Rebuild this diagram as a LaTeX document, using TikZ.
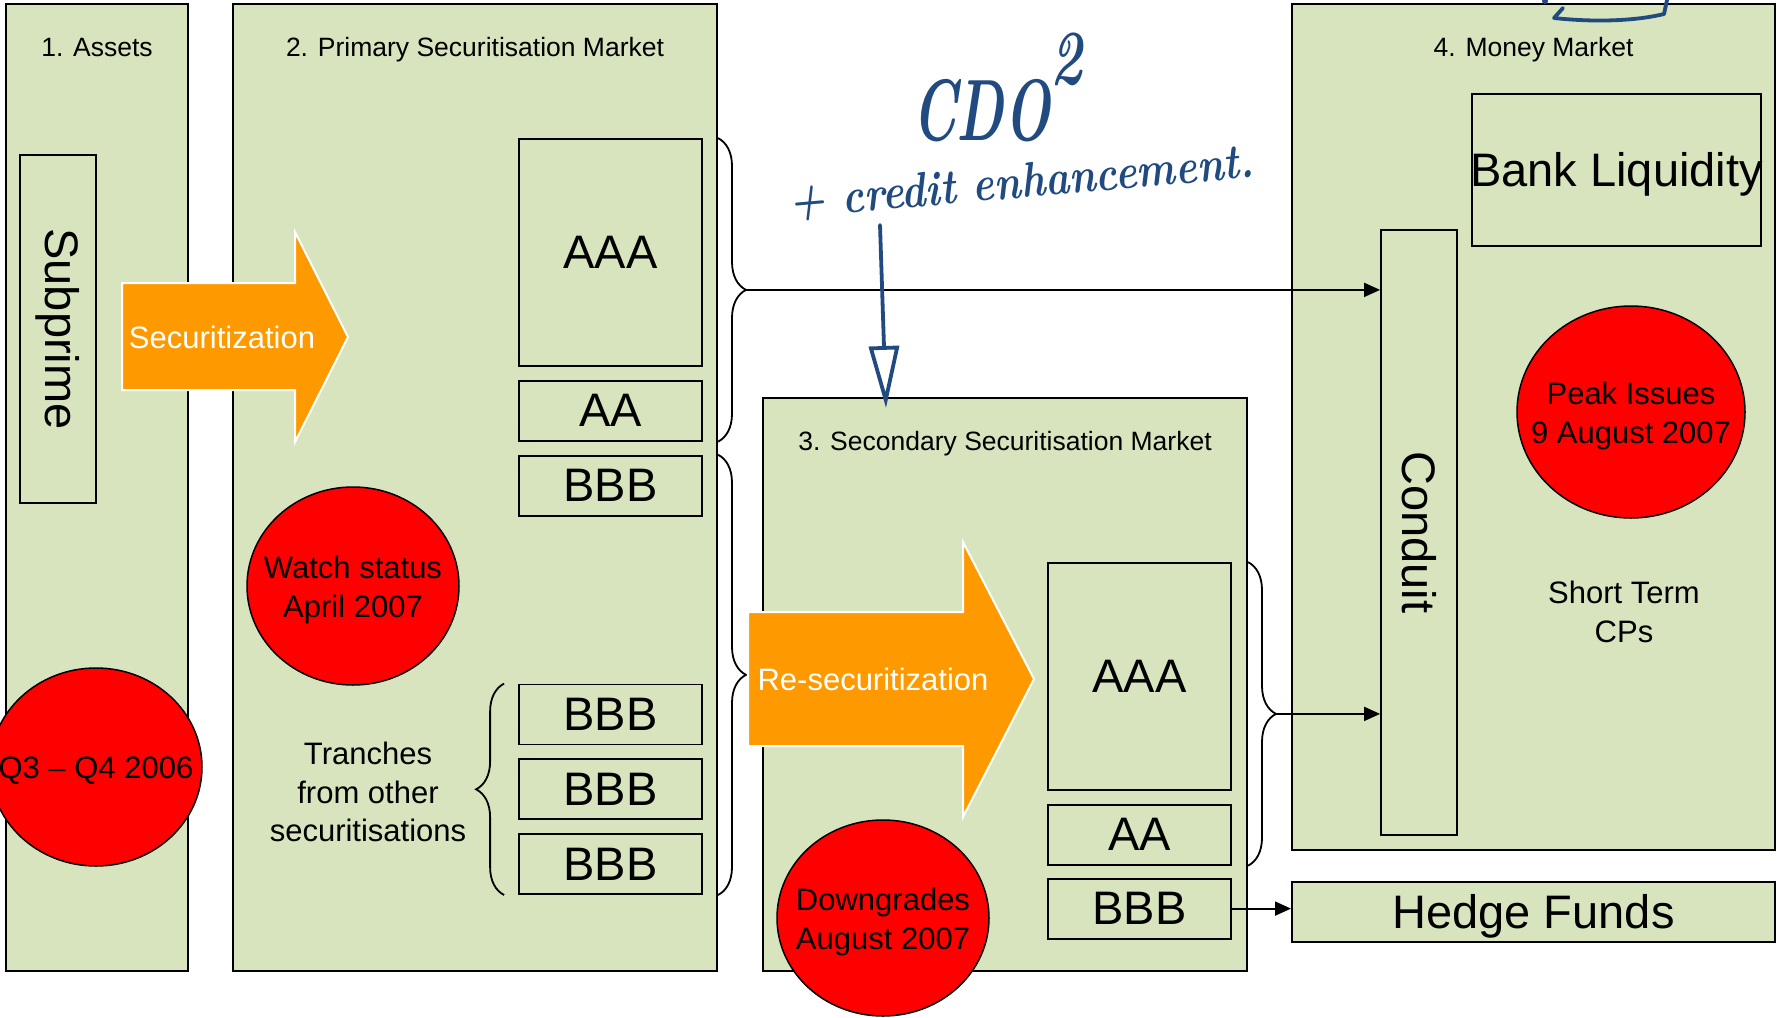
\documentclass[tikz,border=0pt]{standalone}
\usepackage{fontspec}
\setsansfont{Liberation Sans}
\usetikzlibrary{positioning,shapes.geometric,arrows.meta,decorations.pathreplacing}
\definecolor{mygreen}{RGB}{215,228,189}
\definecolor{myorange}{RGB}{255,153,0}
\definecolor{myred}{RGB}{255,0,0}
\definecolor{myink}{RGB}{32,74,128}

\begin{document}
\begin{tikzpicture}[x=1pt,y=-1pt,
  panel/.style={draw,line width=2pt,fill=mygreen,anchor=north west,inner sep=0pt},
  ptitle/.style={font=\sffamily\fontsize{26.5}{32}\selectfont,anchor=base,yshift=-53pt},
  bigtext/.style={font=\sffamily\fontsize{47}{56}\selectfont},
  captext/.style={text height=33.7pt,text depth=0pt},
  midtext/.style={font=\sffamily\fontsize{31}{38.5}\selectfont,align=center},
  tranche/.style={draw,line width=1.8pt,fill=mygreen,minimum width=183pt,minimum height=60pt,inner sep=0pt,bigtext},
  vbox/.style={draw,line width=1.8pt,fill=mygreen,rotate=-90,minimum height=76pt,inner sep=0pt,bigtext},
  event/.style={ellipse,draw,line width=1.5pt,fill=myred,inner sep=0pt},
  eventtext/.style={midtext,yshift=-4pt},
  bigarrow/.style={fill=myorange,draw=white,line width=2pt},
  flow/.style={-{Triangle[length=16pt,width=14pt]},line width=1.8pt},
  bracket/.style={decorate,decoration={brace,amplitude=28pt},line width=1.8pt},
  ink/.style={myink,line width=3.8pt,line cap=round,line join=round},
  inktext/.style={text=myink,inner sep=0pt}]

  \useasboundingbox (0,0) rectangle (1777,1017);

  % the four markets
  \node[panel,minimum width=182pt,minimum height=967pt] (assets) at (5,3) {};
  \node[panel,minimum width=484pt,minimum height=967pt] (primary) at (232,3) {};
  \node[panel,minimum width=484pt,minimum height=573pt] (secondary) at (762,397) {};
  \node[panel,minimum width=483pt,minimum height=846pt] (money) at (1291,3) {};
  \node[panel,minimum width=483pt,minimum height=60pt,bigtext,captext] (hedge) at (1291,881) {Hedge Funds};

  \node[ptitle] (assetstitle) at (assets.north) {1. Assets};
  \node[ptitle] (primarytitle) at (primary.north) {2. Primary Securitisation Market};
  \node[ptitle] (secondarytitle) at (secondary.north) {3. Secondary Securitisation Market};
  \node[ptitle] (moneytitle) at (money.north) {4. Money Market};

  % tranches
  \node[tranche,minimum height=227pt] (aaa1) at (610.5,252.5) {AAA};
  \node[tranche,below=13pt of aaa1] (aa1) {AA};
  \node[tranche,below=13pt of aa1] (bbb1) {BBB};
  \node[tranche] (bbb2) at (610.5,714.5) {BBB};
  \node[tranche,below=13pt of bbb2] (bbb3) {BBB};
  \node[tranche,below=13pt of bbb3] (bbb4) {BBB};

  \node[tranche,minimum height=227pt] (aaa2) at (1139.5,676.5) {AAA};
  \node[tranche,below=13pt of aaa2] (aa2) {AA};
  \node[tranche,below=12pt of aa2] (bbb5) {BBB};

  \node[vbox,minimum width=348pt] (subprime) at (58,329) {Subprime};
  \node[vbox,minimum width=605pt] (conduit) at (1419,532.5) {Conduit};
  \node[draw,line width=1.8pt,fill=mygreen,minimum width=289pt,minimum height=152pt,inner sep=0pt,bigtext,captext] (bank) at (1616.5,170) {\makebox[0pt]{Bank Liquidity}};

  % braces round the tranches
  \draw[bracket] (aaa1.north -| primary.east) -- coordinate[pos=.5,xshift=28pt] (seniortip) (aa1.south -| primary.east);
  \draw[bracket] (bbb1.north -| primary.east) -- (bbb4.south -| primary.east);
  \draw[bracket] (aaa2.north -| secondary.east) -- coordinate[pos=.5,xshift=28pt] (resectip) (aa2.south -| secondary.east);
  \draw[bracket] ([xshift=-14pt]bbb4.south west) -- ([xshift=-14pt]bbb2.north west);

  % securitisation arrows
  \draw[bigarrow] (122,283) -- (295,283) -- (295,232) -- (348,337) -- (295,442) -- (295,390) -- (122,390) -- cycle;
  \node[midtext,text=white] (secur) at (222,337) {Securitization};
  \draw[bigarrow] (748,612) -- (963,612) -- (963,542) -- (1034,679) -- (963,817) -- (963,746) -- (748,746) -- cycle;
  \node[midtext,text=white] (resecur) at (873,679) {Re-securitization};

  % flows into the money market
  \draw[flow] (seniortip) -- (seniortip -| conduit.south);
  \draw[flow] (resectip) -- (resectip -| conduit.south);
  \draw[flow] (bbb5.east) -- (bbb5.east -| hedge.west);

  % red events
  \node[event,minimum width=212pt,minimum height=198pt] (q3q4) at (96,767) {};
  \node[eventtext] at (q3q4) {Q3 – Q4 2006};
  \node[event,minimum width=212pt,minimum height=198pt] (watch) at (353,586) {};
  \node[eventtext] at (watch) {Watch status\\April 2007};
  \node[event,minimum width=212pt,minimum height=196pt] (downgrades) at (883,918) {};
  \node[eventtext] at (downgrades) {Downgrades\\August 2007};
  \node[event,minimum width=228pt,minimum height=212pt] (peak) at (1631,412) {};
  \node[eventtext] at (peak) {Peak Issues\\9 August 2007};

  \node[midtext] (tranchetext) at (368,792) {Tranches\\from other\\securitisations};
  \node[midtext] (cptext) at (1624,612) {Short Term\\CPs};

  % handwritten note
  \node[inktext,anchor=base west,font=\rmfamily\bfseries\itshape\fontsize{60}{60}\selectfont] (cdo) at (912,140) {\scalebox{0.9}[1.45]{CDO}\raisebox{56pt}{\scalebox{0.9}[1.3]{2}}};
  \node[inktext,anchor=base west,rotate=5,font=\rmfamily\bfseries\itshape\fontsize{41}{41}\selectfont] (enh) at (790,218) {\scalebox{1}[1.2]{+ credit enhancement.}};
  \coordinate (inkfrom) at (880,225);
  \coordinate (inkto) at (886,408);
  \draw[ink,-{Triangle[open,length=62pt,width=30pt]}] (inkfrom) -- (inkto);
  \fill[myink] (1545,1) circle (3pt);
  \draw[ink] (1563,8) -- (1554,18) .. controls (1600,23) and (1640,20) .. (1664,14) -- (1667,0);

\end{tikzpicture}
\end{document}
